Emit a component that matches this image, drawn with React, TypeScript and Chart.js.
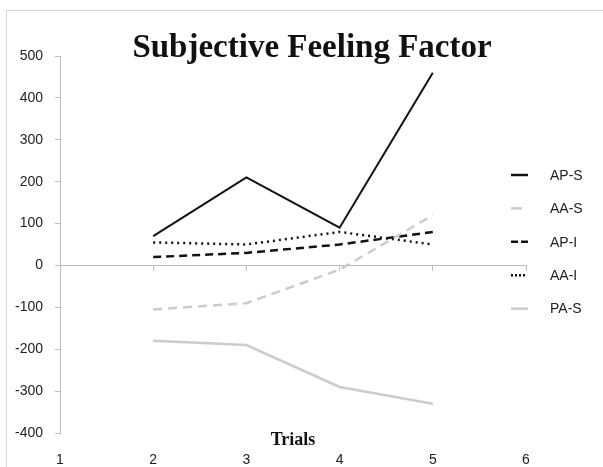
import React, { useEffect, useRef } from "react";
import { Chart, registerables } from "chart.js";

Chart.register(...registerables);

const trials = [2, 3, 4, 5];
const seriesNames = ["AP-S", "AA-S", "AP-I", "AA-I", "PA-S"];
const apS = [70, 210, 90, 460];
const aaS = [-105, -90, -10, 120];
const apI = [20, 30, 50, 80];
const aaI = [55, 50, 80, 50];
const paS = [-180, -190, -290, -330];
const xTickLabels = [1, 2, 3, 4, 5, 6];
const yTicks = [-400, -300, -200, -100, 0, 100, 200, 300, 400, 500];

const titleText = "Subjective Feeling Factor";
const xTitle = "Trials";

const BLACK = "#111111";
const LIGHT = "#cccccc";

const styles = [
  { color: BLACK, width: 2, dash: [] as number[], legendDash: [] as number[], legendLen: 17 },
  { color: LIGHT, width: 2.5, dash: [9, 6], legendDash: [] as number[], legendLen: 11 },
  { color: BLACK, width: 2.5, dash: [8, 5], legendDash: [7, 3], legendLen: 17 },
  { color: BLACK, width: 2.5, dash: [2, 4], legendDash: [2, 2], legendLen: 14 },
  { color: LIGHT, width: 2.5, dash: [] as number[], legendDash: [] as number[], legendLen: 17 },
];

export default function App() {
  const ref = useRef<HTMLCanvasElement | null>(null);
  useEffect(() => {
    if (!ref.current) return;
    const values = [apS, aaS, apI, aaI, paS];
    const datasets = values.map((vals, i) => ({
      label: seriesNames[i],
      data: vals.map((v, j) => ({ x: trials[j], y: v })),
      borderColor: styles[i].color,
      borderWidth: styles[i].width,
      borderDash: styles[i].dash,
      pointRadius: 0,
      fill: false,
      tension: 0,
      xAxisID: "x",
      yAxisID: "y",
    }));

    const decor = {
      id: "decor",
      afterDraw(chart: any) {
        const ctx = chart.ctx;
        ctx.save();
        // border
        ctx.strokeStyle = "#d4d4d4";
        ctx.lineWidth = 1;
        ctx.strokeRect(6.5, 10.5, 700, 700);
        // title
        ctx.fillStyle = "#111111";
        ctx.textAlign = "center";
        ctx.textBaseline = "alphabetic";
        ctx.font = "bold 33px 'Liberation Serif', serif";
        ctx.fillText(titleText, 312, 57);
        ctx.font = "bold 18px 'Liberation Serif', serif";
        ctx.fillText(xTitle, 293, 445);
        // legend
        const rowY0 = 175;
        const rowGap = 33.4;
        ctx.textAlign = "left";
        ctx.textBaseline = "middle";
        ctx.font = "14px 'Liberation Sans', sans-serif";
        seriesNames.forEach((name, i) => {
          const y = rowY0 + i * rowGap;
          ctx.beginPath();
          ctx.setLineDash(styles[i].legendDash);
          ctx.lineCap = "butt";
          ctx.strokeStyle = styles[i].color;
          ctx.lineWidth = i === 0 ? 2.5 : styles[i].width;
          ctx.moveTo(511, y);
          ctx.lineTo(511 + styles[i].legendLen, y);
          ctx.stroke();
          ctx.setLineDash([]);
          ctx.fillStyle = "#222222";
          ctx.fillText(name, 550, y + 1);
        });
        ctx.restore();
      },
    };

    const chart = new Chart(ref.current, {
      type: "line",
      data: { datasets },
      plugins: [decor],
      options: {
        animation: false,
        responsive: false,
        events: [],
        layout: { padding: { top: 56, right: 77, left: 0, bottom: 0 } },
        plugins: { legend: { display: false }, tooltip: { enabled: false }, title: { display: false } },
        scales: {
          x: {
            type: "linear",
            position: { y: 0 } as any,
            min: 1,
            max: 6,
            ticks: { display: false, stepSize: 1 },
            grid: { drawOnChartArea: false, drawTicks: true, tickLength: 5, color: "#bdbdbd" },
            border: { display: true, color: "#bdbdbd", width: 1 },
          },
          x2: {
            type: "linear",
            position: "bottom",
            min: 1,
            max: 6,
            afterBuildTicks: (s: any) => {
              s.ticks = xTickLabels.map((v) => ({ value: v }));
            },
            ticks: {
              padding: 19,
              color: "#222222",
              font: { family: "'Liberation Sans', sans-serif", size: 14 },
              maxRotation: 0,
            },
            grid: { display: false, drawTicks: false },
            border: { display: false },
            afterFit: (s: any) => {
              s.height = 467 - 433;
            },
          },
          y: {
            type: "linear",
            position: "left",
            min: -400,
            max: 500,
            afterBuildTicks: (s: any) => {
              s.ticks = yTicks.map((v) => ({ value: v }));
            },
            ticks: {
              padding: 12,
              color: "#222222",
              font: { family: "'Liberation Sans', sans-serif", size: 14 },
            },
            grid: { drawOnChartArea: false, drawTicks: true, tickLength: 5, color: "#bdbdbd" },
            border: { display: true, color: "#bdbdbd", width: 1 },
            afterFit: (s: any) => {
              s.width = 60;
            },
          },
        },
      },
    } as any);
    return () => chart.destroy();
  }, []);

  return (
    <div style={{ position: "absolute", left: 0, top: 0, width: 603, height: 467, background: "#fff" }}>
      <canvas ref={ref} width={603} height={467} style={{ width: 603, height: 467, display: "block" }} />
    </div>
  );
}
